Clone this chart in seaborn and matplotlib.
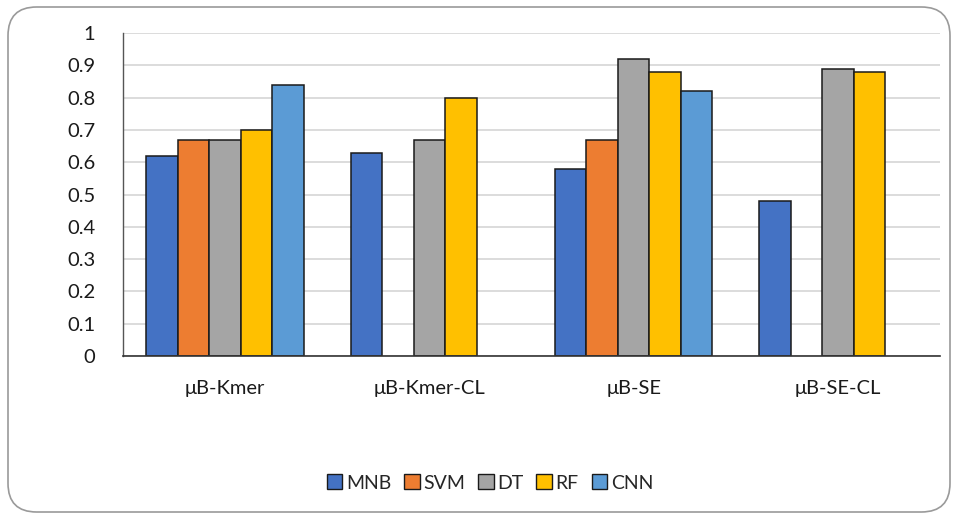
import numpy as np
import pandas as pd
import matplotlib
matplotlib.use("Agg")
import matplotlib.pyplot as plt
from matplotlib.patches import FancyBboxPatch, Patch
import seaborn as sns

groups = ["μB-Kmer", "μB-Kmer-CL", "μB-SE", "μB-SE-CL"]
models = ["MNB", "SVM", "DT", "RF", "CNN"]
mnb = [0.62, 0.63, 0.58, 0.48]
svm = [0.67, np.nan, 0.67, np.nan]
dt = [0.67, 0.67, 0.92, 0.89]
rf = [0.70, 0.80, 0.88, 0.88]
cnn = [0.84, np.nan, 0.82, np.nan]
colors = ["#4472C4", "#ED7D31", "#A5A5A5", "#FFC000", "#5B9BD5"]
yticks = [0, 0.1, 0.2, 0.3, 0.4, 0.5, 0.6, 0.7, 0.8, 0.9, 1]
yticklabels = ["0", "0.1", "0.2", "0.3", "0.4", "0.5", "0.6", "0.7", "0.8", "0.9", "1"]

rows = []
for m, vals in zip(models, [mnb, svm, dt, rf, cnn]):
    for g, v in zip(groups, vals):
        rows.append({"group": g, "model": m, "value": v})
df = pd.DataFrame(rows)

sns.set_theme(style="white")
plt.rcParams["font.family"] = ["Lato", "DejaVu Sans"]

fig = plt.figure(figsize=(9.55, 5.17), dpi=100)
ax = fig.add_axes([123/955, 1-356/517, (940-123)/955, (356-33)/517])

sns.barplot(data=df, x="group", y="value", hue="model", order=groups,
            hue_order=models, palette=colors, width=0.77, dodge=True,
            edgecolor="#1a1a1a", linewidth=1.1, saturation=1, errorbar=None,
            ax=ax, legend=False)

ax.set_ylim(0, 1)
ax.set_xlim(-0.5, 3.5)
ax.set_yticks(yticks)
ax.set_yticklabels(yticklabels)
ax.yaxis.grid(True, color="#D9D9D9", linewidth=1.3)
ax.set_axisbelow(True)
ax.tick_params(axis="y", length=0, pad=20, labelsize=14.5, labelcolor="#1a1a1a")
ax.tick_params(axis="x", length=0, pad=17, labelsize=14.5, labelcolor="#1a1a1a")
ax.set_xlabel("")
ax.set_ylabel("")
for s in ["top", "right"]:
    ax.spines[s].set_visible(False)
ax.spines["left"].set_color("#555555")
ax.spines["left"].set_linewidth(1.0)
ax.spines["bottom"].set_color("#333333")
ax.spines["bottom"].set_linewidth(1.2)

handles = [Patch(facecolor=c, edgecolor="#1a1a1a", linewidth=1.0, label=m) for c, m in zip(colors, models)]
fig.legend(handles=handles, loc="center", bbox_to_anchor=(490/955, 1-483/517), ncol=5,
           frameon=False, fontsize=14, handlelength=0.8, handleheight=0.8,
           handletextpad=0.2, columnspacing=0.65)

border = FancyBboxPatch((8/955, 5/517), (950-8)/955, (510-5)/517,
                        boxstyle="round,pad=0,rounding_size=0.03",
                        transform=fig.transFigure, facecolor="none",
                        edgecolor="#9A9A9A", linewidth=1.2, mutation_aspect=955/517)
fig.patches.append(border)

fig.savefig("out.png", dpi=100)
